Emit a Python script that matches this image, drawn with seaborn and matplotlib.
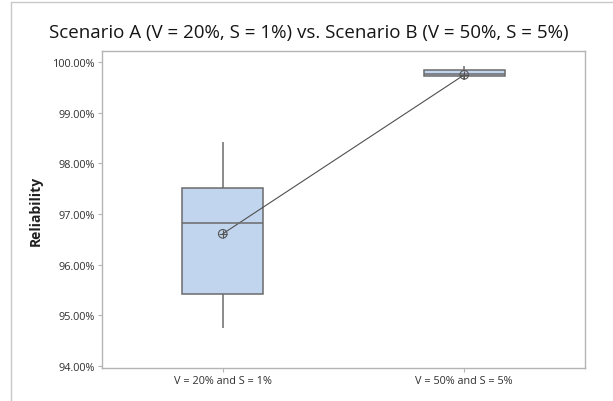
import matplotlib

matplotlib.use("Agg")
import matplotlib.pyplot as plt
import pandas as pd
import seaborn as sns
from matplotlib.lines import Line2D
from matplotlib.ticker import FuncFormatter

SCENARIOS = ["V = 20% and S = 1%", "V = 50% and S = 5%"]

# five-number summaries (min, Q1, median, Q3, max), in %
SUMMARY_A = [94.75, 95.42, 96.82, 97.51, 98.42]
SUMMARY_B = [99.64, 99.72, 99.77, 99.84, 99.92]
MEANS = [96.61, 99.75]

Y_TICKS = [94, 95, 96, 97, 98, 99, 100]

TITLE = "Scenario A (V = 20%, S = 1%) vs. Scenario B (V = 50%, S = 5%)"

BOX_FILL = "#c1d5ee"
EDGE = "#6b6b6b"
FRAME = "#b4b4b4"


def build_frame():
    rows = [(SCENARIOS[0], v) for v in SUMMARY_A]
    rows += [(SCENARIOS[1], v) for v in SUMMARY_B]
    return pd.DataFrame(rows, columns=["scenario", "reliability"])


def main():
    sns.set_style("white")
    plt.rcParams["font.family"] = ["Open Sans", "DejaVu Sans"]

    fig = plt.figure(figsize=(6.13, 4.02), dpi=100)
    ax = fig.add_axes([0.1664, 0.0821, 0.7879, 0.7885])

    # outer frame lines
    fig.add_artist(Line2D([11 / 613, 11 / 613], [0, 1 - 3 / 402],
                          transform=fig.transFigure, color="#c8c8c8", lw=1))
    fig.add_artist(Line2D([11 / 613, 1], [1 - 3 / 402, 1 - 3 / 402],
                          transform=fig.transFigure, color="#c8c8c8", lw=1))

    df = build_frame()
    sns.boxplot(
        data=df,
        x="scenario",
        y="reliability",
        order=SCENARIOS,
        width=0.335,
        whis=1.5,
        color=BOX_FILL,
        saturation=1,
        linecolor=EDGE,
        linewidth=1.1,
        showcaps=False,
        showfliers=False,
        ax=ax,
    )

    means = pd.DataFrame({"scenario": SCENARIOS, "mean": MEANS})
    sns.lineplot(data=means, x="scenario", y="mean", color="#505050",
                 lw=0.8, ax=ax, sort=False)
    sns.scatterplot(data=means, x="scenario", y="mean", marker="o", s=38,
                    facecolor="none", edgecolor="#555555", linewidth=0.8,
                    ax=ax, zorder=5)
    sns.scatterplot(data=means, x="scenario", y="mean", marker="+", s=40,
                    color="#555555", linewidth=0.8, ax=ax, zorder=5)

    ax.set_xlim(-0.5, 1.5)
    ax.set_ylim(93.96, 100.22)
    ax.set_yticks(Y_TICKS)
    ax.yaxis.set_major_formatter(FuncFormatter(lambda v, _: f"{v:.2f}%"))

    for spine in ax.spines.values():
        spine.set_color(FRAME)
        spine.set_linewidth(1)
    ax.tick_params(axis="both", direction="out", length=3, width=0.8,
                   color=FRAME, labelsize=7.8, labelcolor="#303030", pad=2,
                   left=True, bottom=True)

    ax.set_xlabel("")
    ax.set_ylabel("Reliability", fontsize=10, fontweight="bold",
                  color="#202020", labelpad=7)
    fig.text(0.5 + 2 / 613, 1 - 33 / 402, TITLE, ha="center", va="center",
             fontsize=13.5, color="#151515")

    fig.savefig("out.png", dpi=100)
    plt.close(fig)


if __name__ == "__main__":
    main()
